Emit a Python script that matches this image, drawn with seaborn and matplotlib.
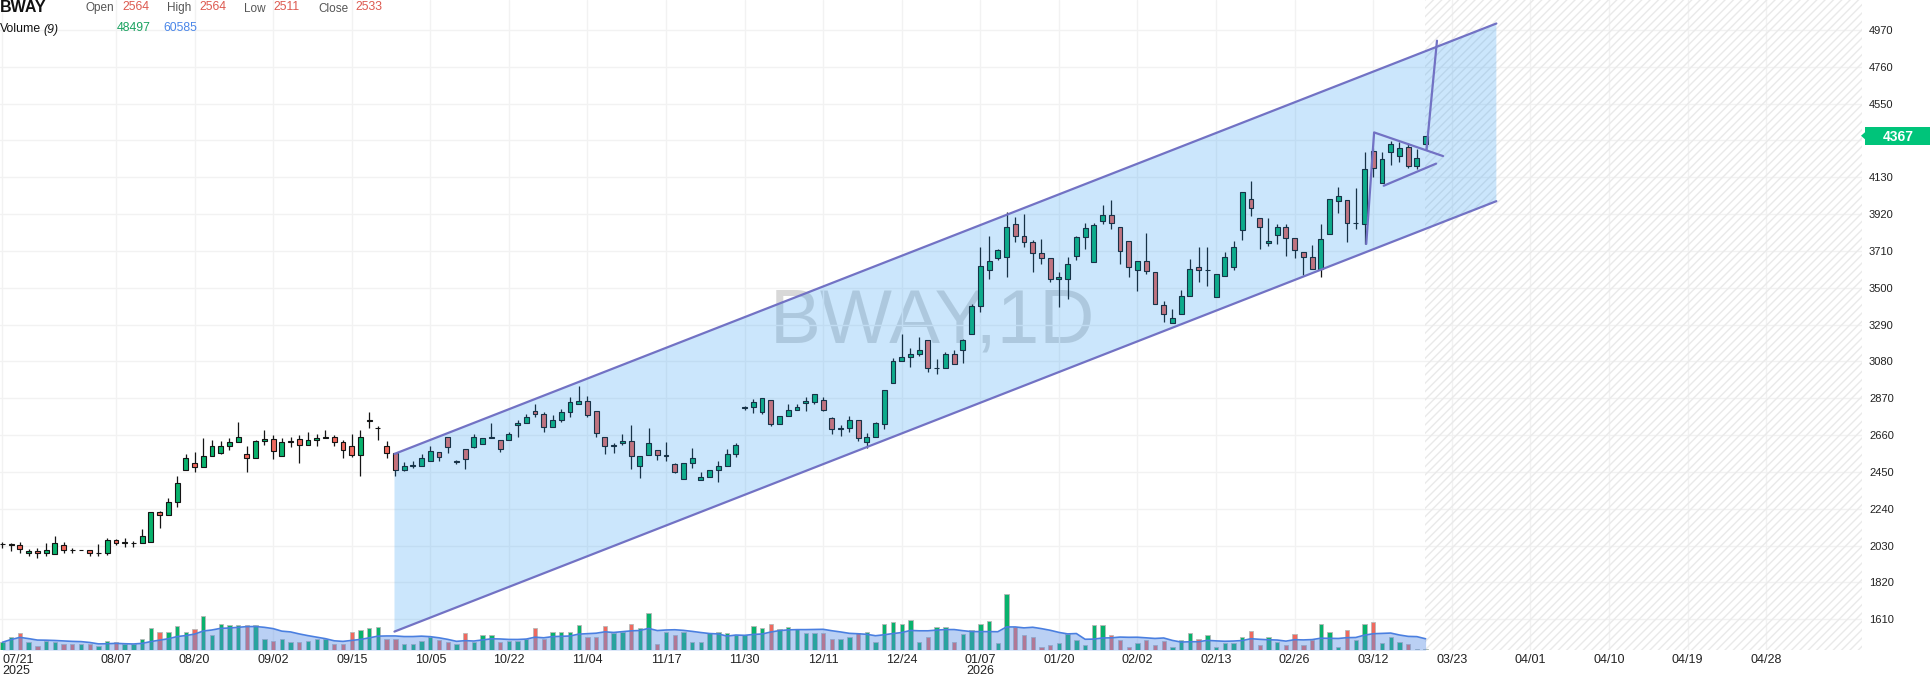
import numpy as np
import pandas as pd
import matplotlib
matplotlib.use("Agg")
import matplotlib.pyplot as plt
import matplotlib.transforms as mtransforms
from matplotlib.patches import Rectangle, Polygon
import seaborn as sns

# daily bars (index 0 = 07/21/2025)
opens = [2038, 2036, 2032, 1986, 1999, 1986, 1981, 2032, 2005, 2003,
         2003, 1986, 1986, 2060, 2047, 2043, 2043, 2049, 2220, 2203,
         2277, 2460, 2500, 2477, 2539, 2556, 2596, 2619, 2551, 2528,
         2625, 2636, 2539, 2623, 2636, 2602, 2631, 2646, 2648, 2619,
         2596, 2545, 2743, 2699, 2596, 2556, 2460, 2486, 2482, 2511,
         2564, 2648, 2509, 2579, 2594, 2608, 2646, 2631, 2631, 2716,
         2727, 2796, 2779, 2705, 2745, 2790, 2836, 2853, 2796, 2648,
         2600, 2613, 2625, 2482, 2545, 2574, 2541, 2494, 2412, 2500,
         2403, 2420, 2460, 2482, 2551, 2815, 2819, 2790, 2859, 2722,
         2767, 2802, 2842, 2850, 2859, 2757, 2696, 2698, 2744, 2622,
         2647, 2723, 2960, 3080, 3106, 3120, 3205, 3040, 3040, 3120,
         3143, 3234, 3394, 3600, 3668, 3674, 3862, 3794, 3759, 3697,
         3668, 3548, 3548, 3679, 3788, 3645, 3879, 3913, 3845, 3765,
         3600, 3651, 3588, 3400, 3298, 3349, 3451, 3617, 3600, 3446,
         3565, 3617, 3828, 4004, 3896, 3754, 3799, 3845, 3782, 3702,
         3674, 3605, 3805, 3993, 3999, 3868, 3862, 4282, 4096, 4276,
         4251, 4301, 4195, 4318]
highs = [2053, 2047, 2049, 2009, 2019, 2043, 2085, 2049, 2015, 2003,
         2003, 2038, 2072, 2070, 2074, 2055, 2123, 2220, 2226, 2300,
         2425, 2553, 2562, 2642, 2631, 2625, 2642, 2733, 2600, 2631,
         2688, 2659, 2642, 2648, 2659, 2676, 2665, 2688, 2659, 2631,
         2665, 2688, 2790, 2710, 2625, 2556, 2505, 2511, 2553, 2598,
         2564, 2648, 2520, 2579, 2667, 2642, 2727, 2631, 2676, 2746,
         2779, 2836, 2790, 2773, 2807, 2876, 2938, 2881, 2796, 2648,
         2613, 2665, 2718, 2539, 2699, 2574, 2619, 2500, 2500, 2585,
         2448, 2460, 2511, 2579, 2613, 2824, 2864, 2870, 2859, 2767,
         2836, 2836, 2878, 2897, 2875, 2766, 2715, 2772, 2744, 2673,
         2734, 2916, 3097, 3234, 3158, 3220, 3205, 3095, 3135, 3144,
         3207, 3407, 3735, 3793, 3723, 3934, 3906, 3919, 3771, 3776,
         3668, 3592, 3678, 3793, 3868, 3868, 3970, 3999, 3845, 3765,
         3651, 3811, 3588, 3423, 3377, 3486, 3662, 3731, 3731, 3577,
         3702, 3765, 4044, 4107, 3896, 3896, 3862, 3862, 3782, 3702,
         3742, 3862, 4004, 4073, 3999, 4067, 4272, 4300, 4276, 4339,
         4333, 4324, 4291, 4362]
lows = [2015, 2002, 1986, 1971, 1958, 1971, 1981, 1986, 1990, 2003,
        1971, 1973, 1977, 2034, 2020, 2024, 2043, 2049, 2133, 2203,
        2252, 2460, 2452, 2477, 2539, 2553, 2573, 2619, 2452, 2528,
        2602, 2526, 2539, 2594, 2500, 2602, 2596, 2642, 2596, 2532,
        2534, 2425, 2699, 2631, 2532, 2429, 2454, 2471, 2482, 2511,
        2511, 2560, 2497, 2469, 2589, 2608, 2642, 2562, 2631, 2648,
        2727, 2762, 2680, 2705, 2733, 2762, 2836, 2765, 2651, 2551,
        2556, 2602, 2465, 2414, 2545, 2520, 2511, 2442, 2408, 2471,
        2403, 2420, 2391, 2482, 2534, 2802, 2784, 2781, 2710, 2722,
        2767, 2802, 2797, 2840, 2795, 2669, 2654, 2679, 2628, 2584,
        2647, 2696, 2960, 3080, 3049, 3114, 3021, 3006, 3040, 3063,
        3074, 3234, 3364, 3548, 3657, 3560, 3763, 3735, 3592, 3634,
        3531, 3389, 3434, 3657, 3719, 3645, 3864, 3833, 3634, 3560,
        3480, 3577, 3406, 3303, 3298, 3349, 3451, 3531, 3508, 3446,
        3565, 3600, 3771, 3908, 3719, 3737, 3748, 3679, 3668, 3571,
        3605, 3560, 3805, 3925, 3759, 3833, 3748, 4134, 4096, 4198,
        4215, 4181, 4175, 4286]
closes = [2038, 2040, 2009, 1999, 1986, 2003, 2043, 2005, 2003, 2003,
          1986, 1986, 2060, 2047, 2047, 2043, 2083, 2220, 2203, 2277,
          2385, 2528, 2477, 2539, 2596, 2598, 2621, 2648, 2528, 2625,
          2636, 2568, 2619, 2623, 2602, 2631, 2642, 2646, 2619, 2573,
          2545, 2648, 2743, 2699, 2556, 2460, 2482, 2486, 2528, 2570,
          2533, 2591, 2509, 2526, 2648, 2642, 2646, 2579, 2665, 2729,
          2762, 2779, 2705, 2745, 2790, 2847, 2853, 2773, 2670, 2596,
          2600, 2625, 2539, 2539, 2613, 2545, 2541, 2448, 2500, 2528,
          2420, 2460, 2482, 2551, 2602, 2815, 2847, 2870, 2722, 2767,
          2802, 2819, 2854, 2897, 2806, 2694, 2696, 2744, 2641, 2647,
          2727, 2916, 3082, 3108, 3120, 3143, 3040, 3040, 3120, 3068,
          3200, 3395, 3623, 3651, 3714, 3845, 3794, 3759, 3697, 3668,
          3548, 3560, 3634, 3788, 3839, 3856, 3913, 3868, 3708, 3617,
          3651, 3594, 3406, 3349, 3326, 3451, 3605, 3600, 3600, 3577,
          3674, 3731, 4044, 3953, 3845, 3765, 3845, 3782, 3714, 3674,
          3605, 3776, 4004, 4021, 3868, 3868, 4175, 4181, 4232, 4318,
          4299, 4195, 4238, 4367]
# volume in thousands
volumes = [39, 67, 85, 39, 21, 46, 39, 28, 28, 28,
           28, 21, 46, 39, 28, 28, 55, 110, 92, 92,
           120, 92, 104, 170, 75, 130, 124, 124, 124, 124,
           55, 46, 55, 39, 39, 46, 55, 55, 28, 28,
           90, 100, 110, 117, 55, 55, 28, 28, 46, 67,
           48, 39, 28, 85, 39, 78, 78, 39, 46, 46,
           58, 113, 58, 92, 92, 92, 124, 67, 67, 120,
           85, 92, 130, 110, 185, 28, 92, 78, 92, 39,
           39, 85, 92, 85, 78, 78, 120, 110, 130, 104,
           117, 104, 85, 85, 85, 55, 55, 67, 85, 92,
           39, 130, 140, 130, 150, 39, 67, 117, 117, 39,
           79, 99, 130, 148, 34, 284, 118, 74, 67, 17,
           24, 34, 79, 51, 24, 125, 125, 74, 51, 14,
           37, 51, 24, 45, 14, 51, 87, 54, 74, 14,
           34, 34, 67, 97, 24, 67, 42, 24, 79, 24,
           49, 130, 92, 17, 103, 51, 130, 143, 37, 67,
           42, 29, 5, 5]

tick_pos = [0, 13, 22, 31, 40, 49, 58, 67, 76, 85, 94, 103, 112, 121, 130,
            139, 148, 157, 166, 175, 184, 193, 202]
tick_labels = ['07/21\n2025', '08/07', '08/20', '09/02', '09/15', '10/05',
               '10/22', '11/04', '11/17', '11/30', '12/11', '12/24',
               '01/07\n2026', '01/20', '02/02', '02/13', '02/26', '03/12',
               '03/23', '04/01', '04/10', '04/19', '04/28']
price_ticks = list(range(1610, 4971, 210))

# drawings
channel_x = [44.9, 171.1]
channel_upper = [2553, 5007]
channel_lower = [1540, 3994]
tri_x = [156.2, 157.1, 165.0]
tri_y = [3750, 4386, 4251]
tri_low_x = [158.2, 164.2]
tri_low_y = [4082, 4208]
arrow_x = [163.1, 164.3]
arrow_y = [4286, 4909]
future_start = 162.9

W, H = 1931, 678
sns.set_theme(style="white")
plt.rcParams['font.family'] = ['Liberation Sans', 'DejaVu Sans']

fig = plt.figure(figsize=(W / 100, H / 100), dpi=100)
ax = fig.add_axes([0, 28 / H, 1862 / W, 650 / H])

df = pd.DataFrame({'open': opens, 'high': highs, 'low': lows, 'close': closes,
                   'volume': volumes})
df['x'] = np.arange(len(df))
up = df['close'] >= df['open']
up_col, dn_col = '#08b26c', '#f0695e'
cols = np.where(up, up_col, dn_col)

# volume pane (twin axis, drawn first so price axis keeps the right side)
axv = ax.twinx()
axv.set_ylim(0, 3282)
axv.set_yticks([])
for s in axv.spines.values():
    s.set_visible(False)
axv.bar(df['x'], df['volume'], width=0.5, color=cols, edgecolor='#b8b8b8',
        linewidth=0.6, zorder=2)
df['vma'] = df['volume'].rolling(9, min_periods=1).mean()
axv.fill_between(df['x'], 0, df['vma'], color='#5b8fe6', alpha=0.42, lw=0, zorder=3)
sns.lineplot(data=df, x='x', y='vma', ax=axv, color='#4a7fe0', lw=1.2, zorder=4)
axv.set_xlabel('')
axv.set_ylabel('')

ax.set_xlim(-0.28, 212.98)
ax.set_ylim(1435, 5141)
ax.grid(True, color='#f2f2f2', lw=1)
ax.set_axisbelow(True)
for s in ax.spines.values():
    s.set_visible(False)

# watermark
ax.text(106.5, 3299, 'BWAY,1D', fontsize=55, color='#cccccc', alpha=0.75,
        ha='center', va='center', zorder=0.5)

# future hatch
ax.add_patch(Rectangle((future_start, 1435), 212.98 - future_start, 5141 - 1435,
                       facecolor='none', edgecolor='#e9e9e9', lw=0,
                       hatch='////', zorder=0.6))

# candles
ax.vlines(df['x'], df['low'], df['high'], color='#141414', lw=0.9, zorder=2)
body_lo = np.minimum(df['open'], df['close'])
body_h = np.maximum(np.abs(df['close'] - df['open']), 3)
ax.bar(df['x'], body_h, bottom=body_lo, width=0.56, color=cols,
       edgecolor='#141414', linewidth=0.8, zorder=3)

# channel
xs = [channel_x[0], channel_x[1], channel_x[1], channel_x[0]]
ys = [channel_upper[0], channel_upper[1], channel_lower[1], channel_lower[0]]
ax.add_patch(Polygon(list(zip(xs, ys)), closed=True, facecolor='#2196f3',
                     alpha=0.23, lw=0, zorder=4))
line_col = '#7272c4'
ax.plot(channel_x, channel_upper, color=line_col, lw=1.6, zorder=5)
ax.plot(channel_x, channel_lower, color=line_col, lw=1.6, zorder=5)
ax.plot(tri_x, tri_y, color=line_col, lw=1.6, zorder=5)
ax.plot(tri_low_x, tri_low_y, color=line_col, lw=1.6, zorder=5)
ax.plot(arrow_x, arrow_y, color=line_col, lw=1.6, zorder=5)

# axes ticks
ax.set_xticks(tick_pos)
ax.set_xticklabels(tick_labels, fontsize=9,
                   family=['Liberation Sans Narrow', 'Liberation Sans'])
ax.tick_params(axis='x', length=0, pad=3, colors='#222222')
for lab in ax.get_xticklabels():
    lab.set_linespacing(0.88)
ax.get_xticklabels()[0].set_ha('left')
ax.yaxis.tick_right()
ax.yaxis.set_label_position('right')
ax.set_yticks(price_ticks)
ax.set_yticklabels(['' if p == 4340 else str(p) for p in price_ticks], fontsize=8)
ax.tick_params(axis='y', which='both', length=0, pad=5, colors='#222222',
               left=False, labelleft=False, right=False, labelright=True)

# last price tag
tr = mtransforms.blended_transform_factory(fig.transFigure, ax.transData)
last = closes[-1]
ph = 9 * 5.70
fig.add_artist(Rectangle((1865 / W, last - ph), 66 / W, 2 * ph, transform=tr,
                         facecolor='#00c47a', edgecolor='none'))
fig.add_artist(Polygon([(1865 / W, last - 20), (1861 / W, last), (1865 / W, last + 20)],
                       closed=True, transform=tr, facecolor='#00c47a', edgecolor='none'))
fig.text(1898 / W, last, str(last), transform=tr, color='white', fontsize=10,
         ha='center', va='center_baseline', fontweight='bold')

# header
def fy(y):
    return 1 - y / H

fig.text(0, fy(7.5), 'BWAY', fontsize=11.5, fontweight='bold', va='center', color='#111111')
for lab, lx, val, vx in [('Open', 86, '2564', 122), ('High', 167, '2564', 199),
                         ('Low', 244, '2511', 273), ('Close', 318, '2533', 355)]:
    fig.text(lx / W, fy(8.5), lab, fontsize=8.5, va='center', color='#555555')
    fig.text(vx / W, fy(6.5), val, fontsize=8.8, va='center', color='#dd5a50')
fig.text(0, fy(29.5), 'Volume', fontsize=8.8, va='center', color='#111111')
fig.text(43 / W, fy(29.5), '(9)', fontsize=8.8, va='center', color='#111111', style='italic')
fig.text(117 / W, fy(28), '48497', fontsize=8.8, va='center', color='#1aa260')
fig.text(163 / W, fy(28), '60585', fontsize=8.8, va='center', color='#4a86e8')

fig.savefig('out.png', dpi=100)
